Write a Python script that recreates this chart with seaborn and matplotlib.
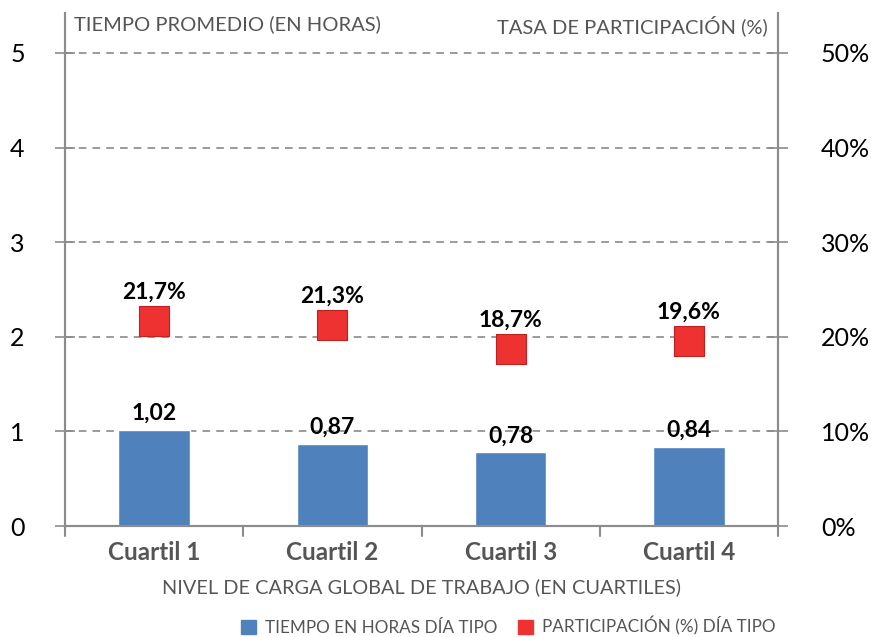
import matplotlib
matplotlib.use("Agg")
import matplotlib.pyplot as plt
import seaborn as sns
import pandas as pd
from matplotlib.patches import Patch

categories = ["Cuartil 1", "Cuartil 2", "Cuartil 3", "Cuartil 4"]
horas = [1.02, 0.87, 0.78, 0.84]
participacion = [21.7, 21.3, 18.7, 19.6]
horas_labels = ["1,02", "0,87", "0,78", "0,84"]
part_labels = ["21,7%", "21,3%", "18,7%", "19,6%"]
left_ticks = [0, 1, 2, 3, 4, 5]
right_ticks = [0, 10, 20, 30, 40, 50]

sns.set_style("white")
plt.rcParams['font.family'] = ['Lato', 'DejaVu Sans']

BLUE = "#4f81bd"
RED = "#ee3131"
GRAY = "#8c8c8c"

df = pd.DataFrame({"cat": categories, "horas": horas, "part": participacion})

fig = plt.figure(figsize=(8.71, 6.37), dpi=100)
ax = fig.add_axes([65/871, 1-526/637, (778-65)/871, (526-13)/637])

sns.barplot(data=df, x="cat", y="horas", color=BLUE, width=0.4, ax=ax, saturation=1)
ymax = 5 + (53-13)/94.6
ax.set_ylim(0, ymax)
ax.set_xlim(-0.5, 3.5)

ax2 = ax.twinx()
ax2.set_ylim(0, ymax*10)
sns.scatterplot(data=df, x="cat", y="part", marker="s", s=480, color=RED,
                edgecolor="#c02020", linewidth=0.8, ax=ax2, zorder=5)
ax2.set_xlim(-0.5, 3.5)

for i, (h, lab) in enumerate(zip(horas, horas_labels)):
    ax.text(i, h + 0.06, lab, ha="center", va="bottom", fontsize=16.5, fontweight="bold", color="black")
for i, (p, lab) in enumerate(zip(participacion, part_labels)):
    ax2.text(i, p + 1.9, lab, ha="center", va="bottom", fontsize=16.5, fontweight="bold", color="black")

# grid
for v in left_ticks[1:]:
    ax.axhline(v, color="#808080", linestyle=(0, (5, 4)), linewidth=1.1, zorder=0)

ax.set_yticks(left_ticks)
ax.set_yticklabels([str(t) for t in left_ticks], fontsize=18, color="black")
ax2.set_yticks(right_ticks)
ax2.set_yticklabels([f"{t}%" for t in right_ticks], fontsize=18, color="black")

ax.set_xticks(range(len(categories)))
ax.set_xticklabels(categories, fontsize=17.5, fontweight="bold", color="#555555")
ax.tick_params(axis="x", length=0, pad=11)
# boundary ticks
for xb in [-0.5, 0.5, 1.5, 2.5, 3.5]:
    ax.plot([xb, xb], [0, -0.11], color=GRAY, lw=1.5, clip_on=False)

ax.tick_params(axis="y", direction="inout", length=14, width=1.2, color=GRAY, pad=22)
ax2.tick_params(axis="y", direction="inout", length=14, width=1.2, color=GRAY, pad=24)
ax2.tick_params(axis="x", length=0)

ax.set_xlabel("NIVEL DE CARGA GLOBAL DE TRABAJO (EN CUARTILES)", fontsize=14.3, color="#555555", labelpad=10)
ax.set_ylabel("")
ax2.set_ylabel("")
ax2.set_xlabel("")

for a in (ax, ax2):
    a.spines["top"].set_visible(False)
    for s in ("left", "right", "bottom"):
        a.spines[s].set_color(GRAY)
        a.spines[s].set_linewidth(1.5)

ax.text(0.012, 0.996, "TIEMPO PROMEDIO (EN HORAS)", transform=ax.transAxes, ha="left", va="top",
        fontsize=14.5, color="#555555")
ax.text(0.986, 0.996, "TASA DE PARTICIPACIÓN (%)", transform=ax.transAxes, ha="right", va="top",
        fontsize=14.5, color="#555555")

handles = [Patch(facecolor=BLUE, edgecolor=BLUE), Patch(facecolor=RED, edgecolor=RED)]
fig.legend(handles, ["TIEMPO EN HORAS DÍA TIPO", "PARTICIPACIÓN (%) DÍA TIPO"],
           loc="center", bbox_to_anchor=(508/871, 1-626/637), ncol=2, frameon=False,
           fontsize=12.3, handlelength=0.9, handleheight=0.9, handletextpad=0.5,
           columnspacing=1.2, labelcolor="#555555")

fig.savefig("out.png", dpi=100)
